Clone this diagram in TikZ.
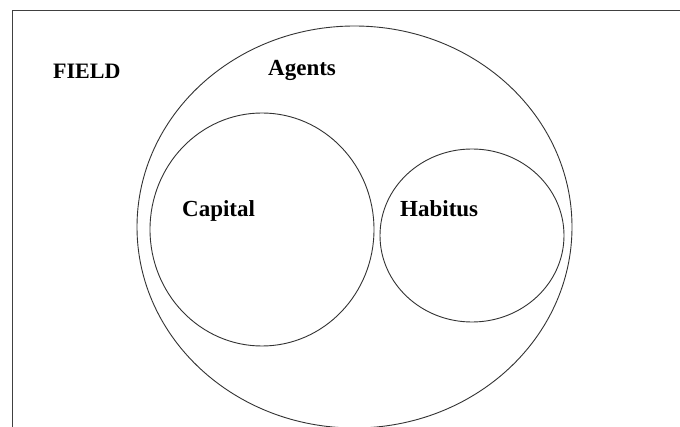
\documentclass[tikz,border=0pt]{standalone}
\usepackage{fontspec}
\setmainfont{Liberation Serif}
\usetikzlibrary{shapes.geometric}
\begin{document}
\begin{tikzpicture}[x=1pt,y=-1pt,
  ring/.style={draw=black!80,line width=0.9pt,ellipse,inner sep=0pt},
  lbl/.style={anchor=base west,inner sep=0pt,font=\bfseries\fontsize{23}{26}\selectfont}]
\useasboundingbox (0,0) rectangle (680,427);
\clip (0,0) rectangle (680,427);
\fill[white] (0,0) rectangle (680,427);
\coordinate (tl) at (12,11);
\coordinate (tr) at (681,11);
\coordinate (bl) at (12,428);
\draw[black!75,line width=1pt] (tr) -- (tl) -- (bl);
\node[ring,minimum width=435pt,minimum height=402pt] (agentsring) at (354.5,227) {};
\node[ring,minimum width=224pt,minimum height=233pt] (capring) at (262,229.5) {};
\node[ring,minimum width=184pt,minimum height=173pt] (habring) at (472,235.5) {};
\node[lbl,font=\bfseries\fontsize{22}{26}\selectfont] (field) at (53,79) {FIELD};
\node[lbl] (agents) at (268,76) {Agents};
\node[lbl] (capital) at (182,217) {Capital};
\node[lbl] (habitus) at (400,217) {Habitus};
\end{tikzpicture}
\end{document}
